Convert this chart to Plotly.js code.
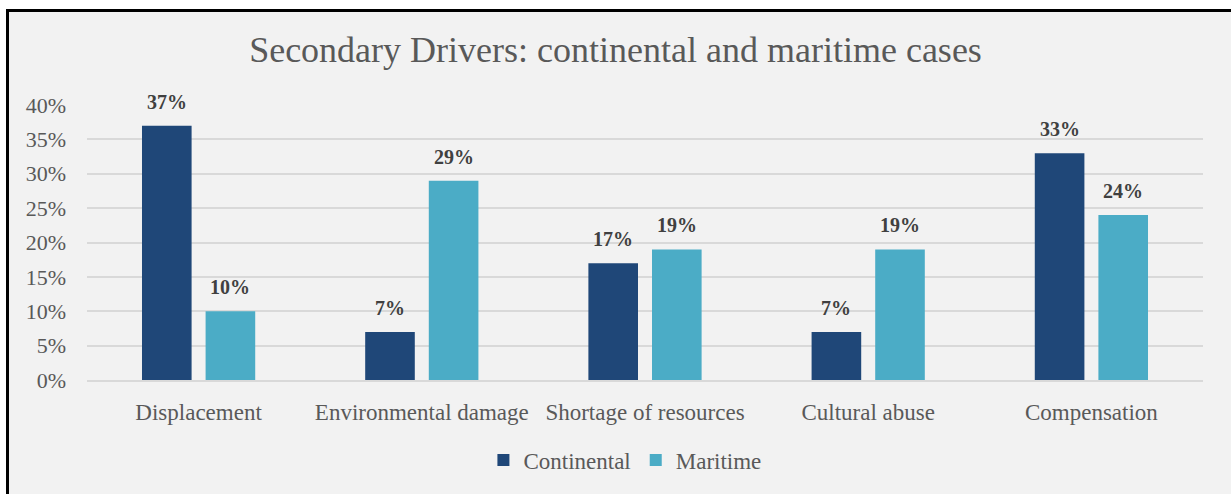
<!DOCTYPE html>
<html>
<head>
<meta charset="utf-8">
<script src="https://cdn.plot.ly/plotly-3.0.1.min.js"></script>
<style>
html,body{margin:0;padding:0;background:#fff;width:1231px;height:494px;overflow:hidden;}
#frame{position:absolute;left:6px;top:9px;width:1240px;height:500px;border-left:3px solid #000;border-top:3px solid #000;background:#f2f2f2;}
#chart{position:absolute;left:0;top:0;width:1231px;height:494px;}
</style>
</head>
<body>
<div id="frame"></div>
<div id="chart"></div>
<script>
const categories = ["Displacement", "Environmental damage", "Shortage of resources", "Cultural abuse", "Compensation"];
const continental = [0.37, 0.07, 0.17, 0.07, 0.33];
const maritime = [0.10, 0.29, 0.19, 0.19, 0.24];
const yTickVals = [0, 0.05, 0.10, 0.15, 0.20, 0.25, 0.30, 0.35, 0.40];
const yTickText = ["0%", "5%", "10%", "15%", "20%", "25%", "30%", "35%", "40%"];

const serif = "Liberation Serif, DejaVu Serif, serif";
const labelFont = {family: "Liberation Serif, serif", size: 20, color: "#404040", weight: "bold"};
const pct = v => Math.round(v * 100) + "%";

const W = 1231, H = 494;
const margin = {l: 87, r: 28, t: 105, b: 114};
const bargap = 0.43, bargroupgap = 0.22;
const catPx = (W - margin.l - margin.r) / categories.length;
const slotPx = catPx * (1 - bargap) / 2;

const traces = [
  {type: "bar", name: "Continental", x: categories, y: continental,
   marker: {color: "#1f4778"}, hoverinfo: "none"},
  {type: "bar", name: "Maritime", x: categories, y: maritime,
   marker: {color: "#4bacc6"}, hoverinfo: "none"}
];

const annotations = [];
[[continental, -1], [maritime, 1]].forEach(([vals, side]) => {
  vals.forEach((v, i) => {
    annotations.push({x: categories[i], y: v, xref: "x", yref: "y", text: pct(v), showarrow: false,
      xshift: side * slotPx / 2, yshift: 24, font: labelFont, xanchor: "center", yanchor: "middle"});
  });
});

const layout = {
  width: W, height: H,
  paper_bgcolor: "rgba(0,0,0,0)", plot_bgcolor: "rgba(0,0,0,0)",
  margin: margin,
  title: {text: "Secondary Drivers: continental and maritime cases", x: 0.5, xanchor: "center", y: 0.9, yanchor: "middle",
          yref: "container", font: {family: serif, size: 36, color: "#595959"}},
  barmode: "group", bargap: bargap, bargroupgap: bargroupgap,
  xaxis: {tickfont: {family: serif, size: 23, color: "#595959"}, showline: true, linecolor: "#d9d9d9", linewidth: 2,
          ticks: "", ticklabelstandoff: 10, fixedrange: true},
  yaxis: {range: [0, 0.4], tickvals: yTickVals, ticktext: yTickText, tickfont: {family: serif, size: 22, color: "#595959"},
          showgrid: true, gridcolor: "#d9d9d9", gridwidth: 2, zeroline: false, showline: false, ticks: "",
          ticklabelstandoff: 20, fixedrange: true},
  annotations: annotations,
  showlegend: true,
  legend: {orientation: "h", x: 0.482, xanchor: "center", y: -0.291, yanchor: "middle",
           font: {family: serif, size: 23, color: "#595959"}, bgcolor: "rgba(0,0,0,0)"}
};

Plotly.newPlot("chart", traces, layout, {displayModeBar: false, staticPlot: true});
</script>
</body>
</html>
